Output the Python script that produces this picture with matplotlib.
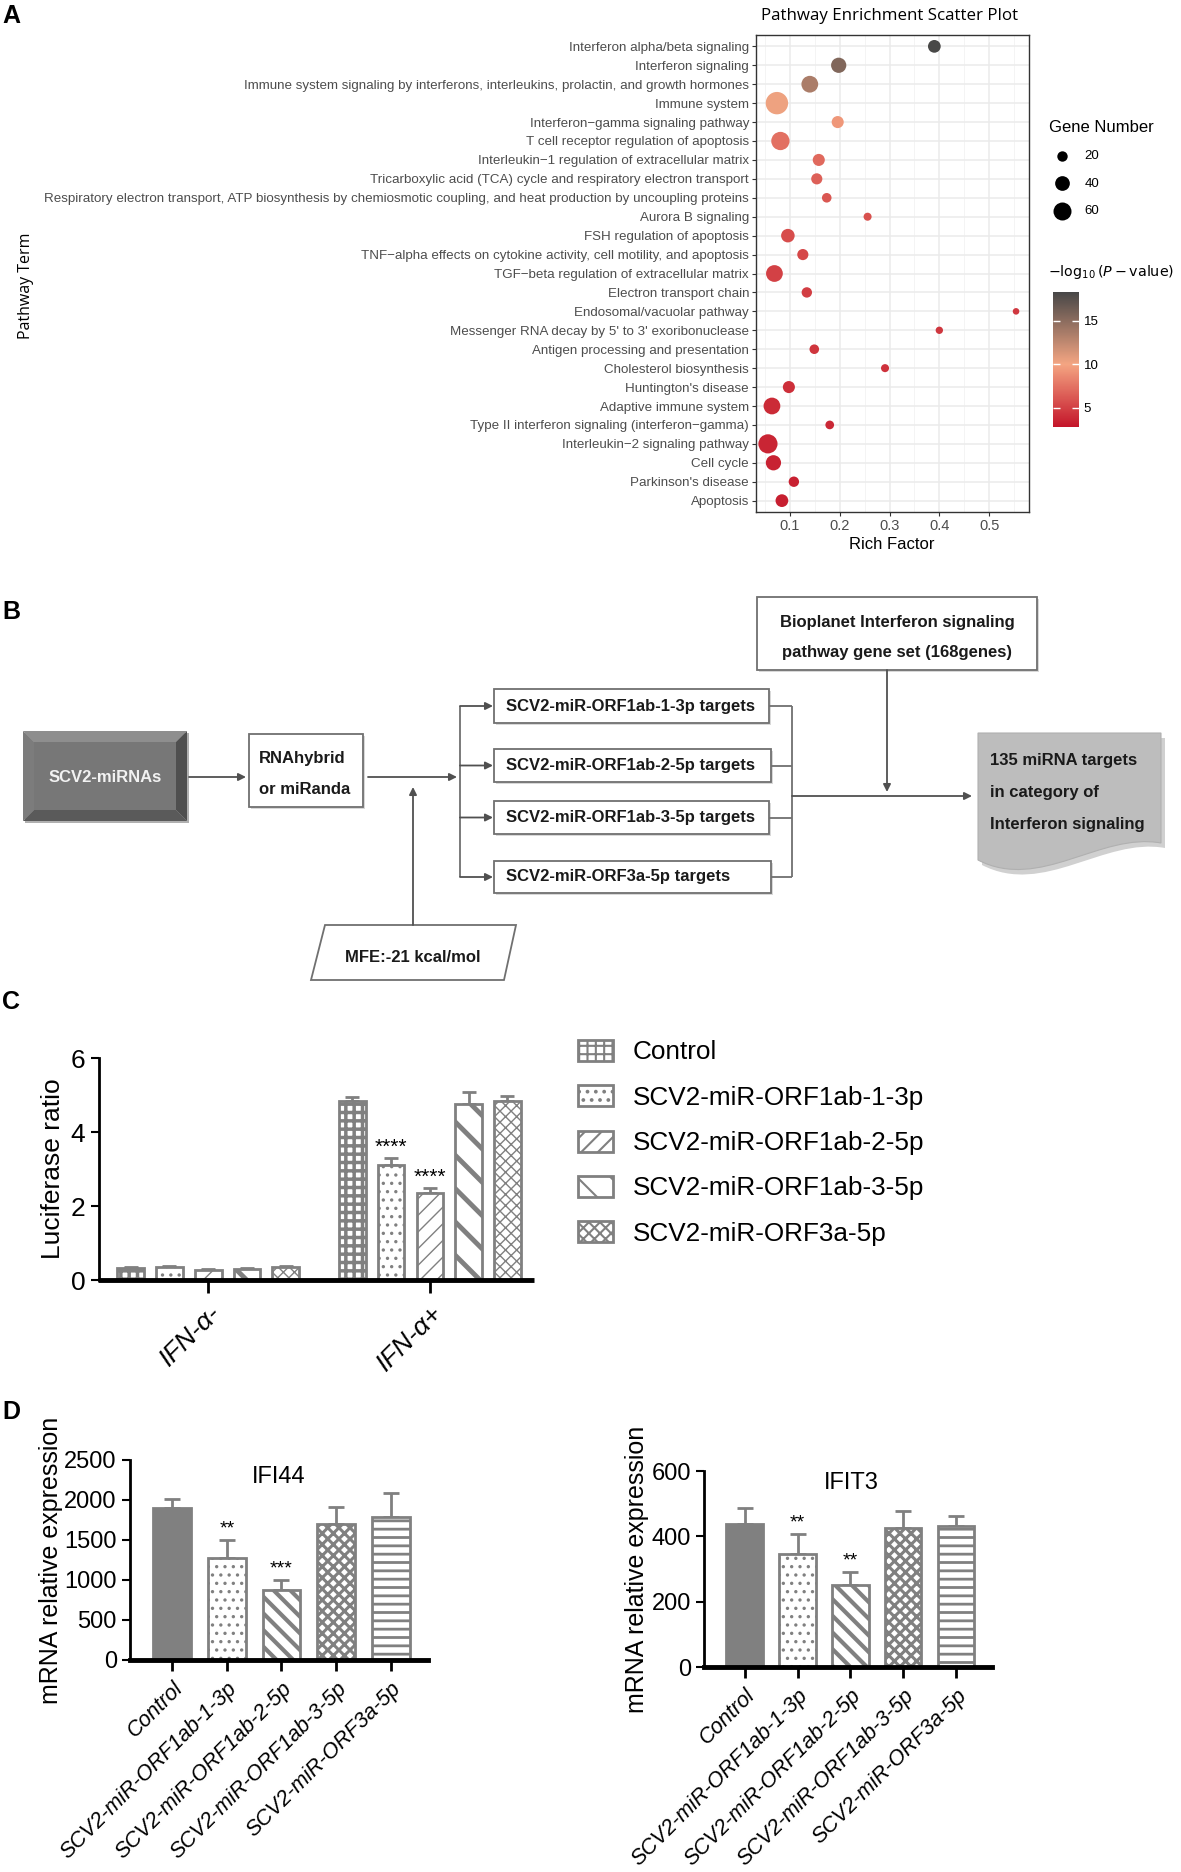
import numpy as np
import matplotlib
matplotlib.use("Agg")
import matplotlib.pyplot as plt
from matplotlib.colors import LinearSegmentedColormap, Normalize
from matplotlib.patches import Rectangle, Polygon, PathPatch
from matplotlib.path import Path

plt.rcParams['font.family'] = ['Liberation Sans', 'DejaVu Sans']
plt.rcParams['hatch.linewidth'] = 1.5

W, H = 1181, 1872

# ---------------- panel A data ----------------
pathways = [
    "Interferon alpha/beta signaling",
    "Interferon signaling",
    "Immune system signaling by interferons, interleukins, prolactin, and growth hormones",
    "Immune system",
    "Interferon\u2212gamma signaling pathway",
    "T cell receptor regulation of apoptosis",
    "Interleukin\u22121 regulation of extracellular matrix",
    "Tricarboxylic acid (TCA) cycle and respiratory electron transport",
    "Respiratory electron transport, ATP biosynthesis by chemiosmotic coupling, and heat production by uncoupling proteins",
    "Aurora B signaling",
    "FSH regulation of apoptosis",
    "TNF\u2212alpha effects on cytokine activity, cell motility, and apoptosis",
    "TGF\u2212beta regulation of extracellular matrix",
    "Electron transport chain",
    "Endosomal/vacuolar pathway",
    "Messenger RNA decay by 5' to 3' exoribonuclease",
    "Antigen processing and presentation",
    "Cholesterol biosynthesis",
    "Huntington's disease",
    "Adaptive immune system",
    "Type II interferon signaling (interferon\u2212gamma)",
    "Interleukin\u22122 signaling pathway",
    "Cell cycle",
    "Parkinson's disease",
    "Apoptosis",
]
rich_factor = [0.390, 0.198, 0.140, 0.074, 0.196, 0.081, 0.158, 0.154, 0.174, 0.256,
               0.096, 0.126, 0.069, 0.134, 0.554, 0.400, 0.149, 0.291, 0.098, 0.064,
               0.180, 0.056, 0.067, 0.108, 0.084]
gene_number = [30, 43, 52, 93, 27, 62, 27, 23, 17, 12,
               34, 23, 52, 20, 8, 10, 17, 12, 27, 52,
               14, 68, 43, 20, 30]
neg_log_p = [18.2, 15.5, 13.5, 10.3, 9.3, 7.4, 7.0, 6.6, 6.1, 5.8,
             5.6, 5.3, 5.0, 4.9, 4.6, 4.5, 4.4, 4.3, 4.1, 3.9,
             3.8, 3.6, 3.5, 3.4, 3.3]
size_legend = [20, 40, 60]

# ---------------- panel C data ----------------
c_groups = ["IFN-\u03b1-", "IFN-\u03b1+"]
series = ["Control", "SCV2-miR-ORF1ab-1-3p", "SCV2-miR-ORF1ab-2-5p",
          "SCV2-miR-ORF1ab-3-5p", "SCV2-miR-ORF3a-5p"]
luc_mean = [[0.33, 4.83], [0.36, 3.11], [0.27, 2.35], [0.30, 4.77], [0.36, 4.83]]
luc_err = [[0.02, 0.12], [0.03, 0.18], [0.02, 0.13], [0.02, 0.30], [0.03, 0.13]]
luc_stars = [["", ""], ["", "****"], ["", "****"], ["", ""], ["", ""]]

# ---------------- panel D data ----------------
d_labels = ["Control", "SCV2-miR-ORF1ab-1-3p", "SCV2-miR-ORF1ab-2-5p",
            "SCV2-miR-ORF1ab-3-5p", "SCV2-miR-ORF3a-5p"]
ifi44_mean = [1896, 1271, 875, 1696, 1783]
ifi44_err = [112, 225, 121, 221, 309]
ifi44_stars = ["", "**", "***", "", ""]
ifit3_mean = [439, 347, 252, 427, 432]
ifit3_err = [48, 60, 38, 50, 31]
ifit3_stars = ["", "**", "**", "", ""]


def fbox(x0, y0, x1, y1):
    return [x0 / W, 1 - y1 / H, (x1 - x0) / W, (y1 - y0) / H]


def fpt(x, y):
    return (x / W, 1 - y / H)


fig = plt.figure(figsize=(W / 100, H / 100), dpi=100)

for lab, (lx, ly) in zip("ABCD", [(2, 4), (2, 600), (2, 990), (2, 1400)]):
    fig.text(*fpt(lx, ly), lab, fontsize=18, fontweight='bold', va='top', ha='left')

# ================= A: enrichment scatter =================
cmap = LinearSegmentedColormap.from_list(
    "enr", [(0.0, "#C4152A"), (0.465, "#F4A582"), (1.0, "#474747")])
norm = Normalize(vmin=2.8, vmax=18.3)

axA = fig.add_axes(fbox(756, 35, 1028.5, 512))
n = len(pathways)
ypos = np.arange(n)[::-1]
sc = axA.scatter(rich_factor, ypos, s=np.array(gene_number) * 2.8, c=neg_log_p,
                 cmap=cmap, norm=norm, linewidths=0, zorder=3)
axA.set_xlim(0.032, 0.579)
axA.set_ylim(-0.6, n - 0.4)
axA.set_yticks(ypos)
axA.set_yticklabels(pathways, fontsize=9.6, color='#4d4d4d')
axA.set_xticks([0.1, 0.2, 0.3, 0.4, 0.5])
axA.set_xticklabels(["0.1", "0.2", "0.3", "0.4", "0.5"], fontsize=10.5, color='#4d4d4d')
axA.set_xticks(np.arange(0.05, 0.58, 0.1), minor=True)
axA.grid(True, which='major', color='#ebebeb', lw=1.1)
axA.grid(True, which='minor', axis='x', color='#f2f2f2', lw=0.6)
axA.set_axisbelow(True)
axA.tick_params(which='major', length=3, color='#333333', width=0.8, pad=2)
axA.tick_params(which='minor', length=0)
for s in axA.spines.values():
    s.set_color('#333333')
    s.set_linewidth(1.0)
fig.text(*fpt(890, 16), "Pathway Enrichment Scatter Plot", family=['Open Sans', 'DejaVu Sans'],
         fontsize=12.2, ha='center', va='center')
fig.text(*fpt(892, 544), "Rich Factor", fontsize=12, ha='center', va='center')
fig.text(*fpt(26, 286), "Pathway Term", family=['Open Sans', 'DejaVu Sans'],
         fontsize=11.5, rotation=90, ha='center', va='center')

handles = [axA.scatter([], [], s=g * 2.8, c='black', linewidths=0) for g in size_legend]
fig.legend(handles, [str(g) for g in size_legend], title="Gene Number",
           loc='upper left', bbox_to_anchor=fpt(1049, 120), frameon=False,
           fontsize=9.5, title_fontsize=12, alignment='left', labelspacing=1.15,
           handletextpad=0.7, borderaxespad=0, borderpad=0)

fig.text(*fpt(1048, 272), r"$-\log_{10}(P-\mathrm{value})$", fontsize=10.3, ha='left', va='center')
cax = fig.add_axes(fbox(1053, 292, 1079, 427))
cb = fig.colorbar(sc, cax=cax)
cb.outline.set_visible(False)
cb.set_ticks([5, 10, 15])
cax.tick_params(direction='in', color='white', length=5, width=1, labelsize=9.5,
                left=True, right=True, labelleft=False, labelright=True)

# ================= B: flow chart =================
axB = fig.add_axes([0, 1 - 1000 / H, 1, 410 / H])
axB.set_xlim(0, W)
axB.set_ylim(1000, 590)
axB.axis('off')
bfont = dict(fontsize=12, fontweight='bold', color='#1a1a1a')
edge = '#707070'


def arrow(p0, p1):
    axB.annotate('', xy=p1, xytext=p0,
                 arrowprops=dict(arrowstyle='-|>', color='#505050', lw=1.3,
                                 mutation_scale=11, shrinkA=0, shrinkB=0))


def line(xs, ys):
    axB.plot(xs, ys, color='#707070', lw=1.3, solid_capstyle='butt')


def box(x0, y0, x1, y1):
    axB.add_patch(Rectangle((x0 + 2, y0 + 2), x1 - x0, y1 - y0, facecolor='#d8d8d8',
                            edgecolor='none', zorder=1))
    axB.add_patch(Rectangle((x0, y0), x1 - x0, y1 - y0, facecolor='white',
                            edgecolor=edge, lw=1.3, zorder=2))


# bevelled source box
x0, y0, x1, y1, b = 23, 731, 187, 821, 11
axB.add_patch(Rectangle((x0 + 2, y0 + 2), x1 - x0, y1 - y0, facecolor='#b0b0b0', zorder=1))
axB.add_patch(Polygon([(x0, y0), (x1, y0), (x1 - b, y0 + b), (x0 + b, y0 + b)], facecolor='#8e8e8e', zorder=2))
axB.add_patch(Polygon([(x0, y0), (x0 + b, y0 + b), (x0 + b, y1 - b), (x0, y1)], facecolor='#7c7c7c', zorder=2))
axB.add_patch(Polygon([(x1, y0), (x1, y1), (x1 - b, y1 - b), (x1 - b, y0 + b)], facecolor='#4f4f4f', zorder=2))
axB.add_patch(Polygon([(x0, y1), (x0 + b, y1 - b), (x1 - b, y1 - b), (x1, y1)], facecolor='#5a5a5a', zorder=2))
axB.add_patch(Rectangle((x0 + b, y0 + b), x1 - x0 - 2 * b, y1 - y0 - 2 * b, facecolor='#777777', zorder=2))
axB.text((x0 + x1) / 2, 777, "SCV2-miRNAs", ha='center', va='center', zorder=3,
         fontsize=12, fontweight='bold', color='#f2f2f2')

arrow((189, 777), (246, 777))
box(249, 734, 363, 807)
axB.text(259, 758, "RNAhybrid", ha='left', va='center', zorder=3, **bfont)
axB.text(259, 789, "or miRanda", ha='left', va='center', zorder=3, **bfont)
arrow((368, 777), (457, 777))

# MFE parallelogram
axB.add_patch(Polygon([(325, 925), (516, 925), (504, 980), (311, 980)], closed=True,
                      facecolor='white', edgecolor=edge, lw=1.3, zorder=2))
axB.text(413, 957, "MFE:-21 kcal/mol", ha='center', va='center', zorder=3, **bfont)
arrow((413, 925), (413, 787))

# target boxes
tgt_y = [(689, 723), (749, 782), (801, 834), (861, 893)]
tgt_r = [769, 771, 769, 771]
tgt_txt = ["SCV2-miR-ORF1ab-1-3p targets", "SCV2-miR-ORF1ab-2-5p targets",
           "SCV2-miR-ORF1ab-3-5p targets", "SCV2-miR-ORF3a-5p targets"]
centers = [(a + c) / 2 for a, c in tgt_y]
line([460, 460], [centers[0], centers[-1]])
line([792, 792], [centers[0], centers[-1]])
for (ya, yb), xr, t, yc in zip(tgt_y, tgt_r, tgt_txt, centers):
    arrow((460, yc), (493, yc))
    box(494, ya, xr, yb)
    axB.text(506, yc, t, ha='left', va='center', zorder=3, **bfont)
    line([xr, 792], [yc, yc])
arrow((792, 796), (972, 796))

box(757, 597, 1037, 670)
axB.text(897, 622, "Bioplanet Interferon signaling", ha='center', va='center', zorder=3, **bfont)
axB.text(897, 653, "pathway gene set (168genes)", ha='center', va='center', zorder=3, **bfont)
arrow((887, 670), (887, 792))


# document shape
def doc_path(dx, dy):
    verts = [(978 + dx, 733 + dy), (1161 + dx, 733 + dy), (1161 + dx, 843 + dy),
             (1100 + dx, 832 + dy), (1040 + dx, 892 + dy), (978 + dx, 860 + dy),
             (978 + dx, 733 + dy)]
    codes = [Path.MOVETO, Path.LINETO, Path.LINETO, Path.CURVE4, Path.CURVE4,
             Path.CURVE4, Path.CLOSEPOLY]
    return Path(verts, codes)


axB.add_patch(PathPatch(doc_path(4, 5), facecolor='#d0d0d0', edgecolor='none', zorder=1))
axB.add_patch(PathPatch(doc_path(0, 0), facecolor='#bdbdbd', edgecolor='#b0b0b0', lw=0.8, zorder=2))
for yy, t in zip([761, 793, 824], ["135 miRNA targets", "in category of", "Interferon signaling"]):
    axB.text(990, yy, t, ha='left', va='center', zorder=3, **bfont)

# ================= C: luciferase =================
gray = '#808080'
c_hatch = ['++', '..', '//', '\\', 'xxx']
c_hlw = [2.5, 1.2, 1.0, 3.5, 1.0]
axC = fig.add_axes(fbox(98.5, 1058, 534, 1280))
xg = np.arange(len(c_groups))
bars_c = []
for j, name in enumerate(series):
    xj = xg + (j - 2) * 0.175
    bc = axC.bar(xj, luc_mean[j], width=0.12, facecolor='white', edgecolor=gray,
                 lw=2, hatch=c_hatch[j], zorder=2, label=name)
    for p in bc:
        try:
            p.set_hatch_linewidth(c_hlw[j])
        except AttributeError:
            pass
    bars_c.append(bc)
    axC.errorbar(xj, luc_mean[j], yerr=[np.zeros(len(xj)), luc_err[j]], fmt='none',
                 ecolor=gray, elinewidth=2, capsize=5, capthick=2, zorder=1)
    for xi, m, e, st in zip(xj, luc_mean[j], luc_err[j], luc_stars[j]):
        if st:
            axC.annotate(st, (xi, m + e), xytext=(0, 1), textcoords='offset points',
                         ha='center', va='bottom', fontsize=15)
axC.set_xlim(-0.495, 1.47)
axC.set_ylim(0, 6)
axC.set_yticks([0, 2, 4, 6])
axC.set_xticks(xg)
axC.set_xticklabels(c_groups, rotation=45, ha='right', rotation_mode='anchor',
                    fontstyle='italic', fontsize=19)
axC.tick_params(axis='y', labelsize=19, length=6, width=1.5)
axC.tick_params(axis='x', length=9, width=2, pad=6)
axC.set_ylabel("Luciferase ratio", fontsize=19, labelpad=4)
for s in ['top', 'right']:
    axC.spines[s].set_visible(False)
axC.spines['left'].set_linewidth(2)
axC.spines['bottom'].set_linewidth(3.5)
axC.spines['bottom'].set_capstyle('butt')
fig.legend(bars_c, series, loc='upper left', bbox_to_anchor=fpt(578, 1040), frameon=False,
           fontsize=18.8, handlelength=1.35, handleheight=0.85, labelspacing=0.8,
           handletextpad=0.75, borderaxespad=0, borderpad=0)

# ================= D: qPCR =================
d_hatch = [None, '..', '\\\\', 'xxx', '--']
d_hlw = [1, 1.2, 3.0, 2.2, 2.0]


def qpcr(rect, means, errs, stars, ylim, yticks, title, tpos, ylab_x):
    ax = fig.add_axes(rect)
    xs = np.arange(len(d_labels))
    for j in range(len(d_labels)):
        fc = gray if j == 0 else 'white'
        bb = ax.bar(xs[j], means[j], width=0.69, facecolor=fc, edgecolor=gray, lw=2,
                    hatch=d_hatch[j], zorder=2)
        for p in bb:
            try:
                p.set_hatch_linewidth(d_hlw[j])
            except AttributeError:
                pass
    ax.errorbar(xs, means, yerr=[np.zeros(len(xs)), errs], fmt='none', ecolor=gray,
                elinewidth=2, capsize=6, capthick=2, zorder=1)
    for xi, m, e, st in zip(xs, means, errs, stars):
        if st:
            ax.annotate(st, (xi, m + e), xytext=(0, 2), textcoords='offset points',
                        ha='center', va='bottom', fontsize=14)
    ax.set_xlim(-0.77, 4.68)
    ax.set_ylim(*ylim)
    ax.set_yticks(yticks)
    ax.set_xticks(xs)
    ax.set_xticklabels(d_labels, rotation=45, ha='right', rotation_mode='anchor',
                       fontstyle='italic', fontsize=15.5)
    ax.tick_params(axis='y', labelsize=17, length=6, width=1.5)
    ax.tick_params(axis='x', length=8, width=2, pad=5)
    for s in ['top', 'right']:
        ax.spines[s].set_visible(False)
    ax.spines['left'].set_linewidth(2)
    ax.spines['bottom'].set_linewidth(3.5)
    ax.text(tpos[0], tpos[1], title, transform=ax.transAxes, ha='center', va='center',
            fontsize=17)
    ax.set_ylabel("mRNA relative expression", fontsize=18)
    ax.yaxis.set_label_coords(ylab_x, 0.5)
    return ax


qpcr(fbox(130, 1460, 428, 1660), ifi44_mean, ifi44_err, ifi44_stars, (0, 2500),
     [0, 500, 1000, 1500, 2000, 2500], "IFI44", (0.50, 0.915), -0.225)
qpcr(fbox(704, 1471, 992, 1667), ifit3_mean, ifit3_err, ifit3_stars, (0, 600),
     [0, 200, 400, 600], "IFIT3", (0.51, 0.94), -0.19)

fig.savefig("out.png", dpi=100)
